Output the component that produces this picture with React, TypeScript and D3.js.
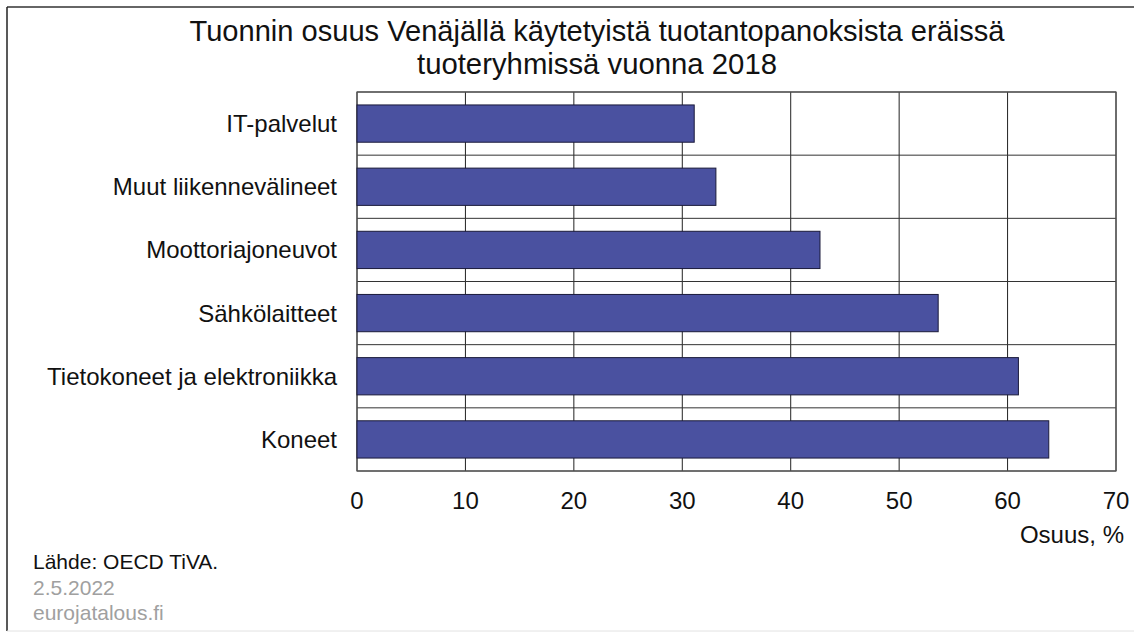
import React from "react";
import * as d3 from "d3";

const categories = [
  "IT-palvelut",
  "Muut liikennevälineet",
  "Moottoriajoneuvot",
  "Sähkölaitteet",
  "Tietokoneet ja elektroniikka",
  "Koneet",
];
const values = [31.1, 33.1, 42.7, 53.6, 61.0, 63.8];
const xTicks = [0, 10, 20, 30, 40, 50, 60, 70];
const titleLines = [
  "Tuonnin osuus Venäjällä käytetyistä tuotantopanoksista eräissä",
  "tuoteryhmissä vuonna 2018",
];
const sourceLines = ["Lähde: OECD TiVA.", "2.5.2022", "eurojatalous.fi"];

export default function App() {
  const W = 1134;
  const H = 634;
  const left = 357;
  const right = 1116;
  const top = 92;
  const bottom = 471;
  const font = "Arial, 'Liberation Sans', sans-serif";

  const x = d3.scaleLinear().domain([0, 70]).range([left, right]);
  const y = d3
    .scaleBand<string>()
    .domain(categories)
    .range([top, bottom])
    .paddingInner(0.41)
    .paddingOuter(0.205);
  const band = (bottom - top) / categories.length;
  const bandEdges = d3.range(categories.length + 1).map((i) => top + i * band);
  const titleWidths = [815, 360];

  return (
    <svg
      width={W}
      height={H}
      style={{ position: "absolute", left: 0, top: 0, background: "#fff" }}
      fontFamily={font}
    >
      <rect x={0} y={0} width={W} height={H} fill="#fff" />
      <line x1={7} x2={W} y1={7} y2={7} stroke="#333" strokeWidth={1.5} />
      <line x1={7} x2={7} y1={7} y2={631} stroke="#222" strokeWidth={1.5} />
      <line x1={7} x2={W} y1={631} y2={631} stroke="#e2e2e2" strokeWidth={1} />

      {titleLines.map((t, i) => (
        <text
          key={t}
          x={597}
          y={41 + i * 33}
          textAnchor="middle"
          fontSize={30}
          fill="#111"
          textLength={titleWidths[i]}
          lengthAdjust="spacingAndGlyphs"
        >
          {t}
        </text>
      ))}

      {/* grid */}
      {xTicks.map((t) => (
        <line key={"v" + t} x1={x(t)} x2={x(t)} y1={top} y2={bottom} stroke="#222" strokeWidth={1} />
      ))}
      {bandEdges.map((e, i) => (
        <line key={"h" + i} x1={left} x2={right} y1={e} y2={e} stroke="#333" strokeWidth={1} />
      ))}
      <rect x={left} y={top} width={right - left} height={bottom - top} fill="none" stroke="#555" strokeWidth={1.2} />

      {/* bars */}
      {categories.map((c, i) => (
        <rect
          key={c}
          x={x(0)}
          y={y(c)}
          width={x(values[i]) - x(0)}
          height={y.bandwidth()}
          fill="#4a51a0"
          stroke="#1a1a3a"
          strokeWidth={1}
        />
      ))}

      {/* category labels */}
      {categories.map((c) => (
        <text
          key={"l" + c}
          x={337}
          y={(y(c) as number) + y.bandwidth() / 2 + 8.5}
          textAnchor="end"
          fontSize={24}
          fill="#111"
        >
          {c}
        </text>
      ))}

      {/* x tick labels */}
      {xTicks.map((t) => (
        <text key={"t" + t} x={x(t)} y={509} textAnchor="middle" fontSize={24} fill="#111">
          {t}
        </text>
      ))}
      <text x={1124} y={543} textAnchor="end" fontSize={24} fill="#111">
        Osuus, %
      </text>

      {sourceLines.map((s, i) => (
        <text key={s} x={33} y={569 + i * 25.5} fontSize={21} fill={i === 0 ? "#111" : "#a0a0a0"}>
          {s}
        </text>
      ))}
    </svg>
  );
}
